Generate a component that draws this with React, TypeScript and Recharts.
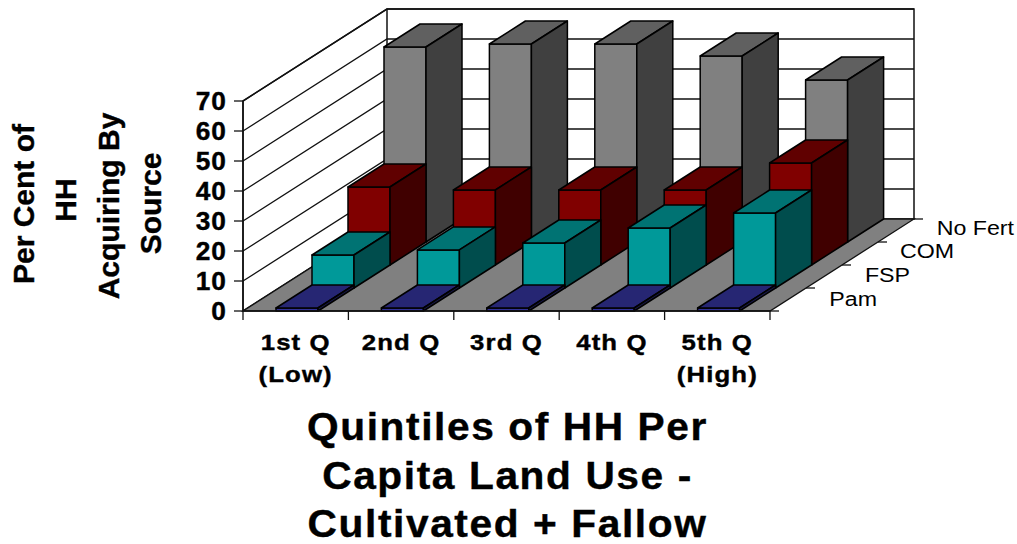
// @ts-nocheck
import React from 'react';
import { BarChart, Bar, XAxis, YAxis, Customized } from 'recharts';

const categories = ['1st Q\n(Low)', '2nd Q', '3rd Q', '4th Q', '5th Q\n(High)'];
const pam = [1, 1, 1, 1, 1];
const fsp = [11, 12.7, 15, 20, 25];
const com = [26, 25, 25, 25, 34];
const noFert = [65, 66, 66, 62, 54];
const yTicks = [0, 10, 20, 30, 40, 50, 60, 70];
const depthLabels = ['Pam', 'FSP', 'COM', 'No Fert'];
const yTitle = ['Per Cent of', 'HH', 'Acquiring By', 'Source'];
const xTitle = ['Quintiles of HH Per', 'Capita Land Use -', 'Cultivated + Fallow'];

const data = categories.map((cat, i) => ({ cat, pam: pam[i], fsp: fsp[i], com: com[i], noFert: noFert[i] }));

const FONT = '"Liberation Sans", Arial, sans-serif';
const WIDTH = 1017;
const HEIGHT = 544;
const LEFT = 243;
const RIGHT = 770;
const TOP = 101;
const BOTTOM = 311;
const DEPTH_X = 144;
const DEPTH_Y = 92;
const ROW_X = 36;
const ROW_Y = 23;
const LINE = '#111';
const Y_TITLE_MID = [204, 200, 206, 203.5];

const valueY = (v) => BOTTOM - (v / 70) * (BOTTOM - TOP);

// stretched text, the original has wide glyphs
const Wide = ({ x, y, size, sx = 1.12, gap = 0, weight = 'bold', anchor = 'middle', children }) => (
    <text
        transform={`translate(${x},${y}) scale(${sx},1)`}
        textAnchor={anchor}
        fontFamily={FONT}
        fontSize={size}
        fontWeight={weight}
        letterSpacing={gap}
        fill="#000"
        stroke={weight === 'bold' ? '#000' : 'none'}
        strokeWidth={weight === 'bold' ? 0.4 : 0}
    >
        {children}
    </text>
);

const Walls = () => {
    const catW = (RIGHT - LEFT) / categories.length;
    return (
        <g>
            <polygon
                points={`${LEFT},${TOP} ${LEFT + DEPTH_X},${TOP - DEPTH_Y} ${RIGHT + DEPTH_X},${TOP - DEPTH_Y} ${RIGHT + DEPTH_X},${BOTTOM - DEPTH_Y} ${LEFT + DEPTH_X},${BOTTOM - DEPTH_Y} ${LEFT},${BOTTOM}`}
                fill="#fff"
                stroke={LINE}
                strokeWidth={1.5}
            />
            {yTicks.slice(1).map((t) => (
                <polyline
                    key={t}
                    points={`${LEFT},${valueY(t)} ${LEFT + DEPTH_X},${valueY(t) - DEPTH_Y} ${RIGHT + DEPTH_X},${valueY(t) - DEPTH_Y}`}
                    fill="none"
                    stroke={LINE}
                    strokeWidth={1.3}
                />
            ))}
            <line x1={LEFT + DEPTH_X} y1={TOP - DEPTH_Y} x2={LEFT + DEPTH_X} y2={BOTTOM - DEPTH_Y} stroke={LINE} strokeWidth={1.5} />
            <polygon
                points={`${LEFT},${BOTTOM} ${RIGHT},${BOTTOM} ${RIGHT + DEPTH_X},${BOTTOM - DEPTH_Y} ${LEFT + DEPTH_X},${BOTTOM - DEPTH_Y}`}
                fill="#808080"
                stroke={LINE}
                strokeWidth={1.3}
            />
            {categories.map((c, i) => (
                <line key={c} x1={LEFT + catW * i} y1={BOTTOM} x2={LEFT + catW * i} y2={BOTTOM + 9} stroke={LINE} strokeWidth={1.3} />
            ))}
            <line x1={RIGHT} y1={BOTTOM} x2={RIGHT} y2={BOTTOM + 9} stroke={LINE} strokeWidth={1.3} />
            {[0, 1, 2, 3, 4].map((i) => (
                <line
                    key={i}
                    x1={RIGHT + ROW_X * i}
                    y1={BOTTOM - ROW_Y * i}
                    x2={RIGHT + ROW_X * i + 9}
                    y2={BOTTOM - ROW_Y * i}
                    stroke={LINE}
                    strokeWidth={1.3}
                />
            ))}
        </g>
    );
};

const Titles = () => (
    <g>
        {yTitle.map((line, i) => (
            <text
                key={line}
                transform={`translate(${33.5 + i * 42.6},${Y_TITLE_MID[i]}) rotate(-90)`}
                textAnchor="middle"
                fontFamily={FONT}
                fontSize={30}
                fontWeight="bold"
                fill="#000"
                stroke="#000"
                strokeWidth={0.4}
            >
                {line}
            </text>
        ))}
        {xTitle.map((line, i) => (
            <Wide key={line} x={507.5} y={440 + i * 48.5} size={38} sx={1.07} gap={1.5}>
                {line}
            </Wide>
        ))}
        <Wide x={1014} y={235} size={20} sx={1.16} weight="normal" anchor="end">{depthLabels[3]}</Wide>
        <Wide x={954} y={258} size={20} sx={1.16} weight="normal" anchor="end">{depthLabels[2]}</Wide>
        <Wide x={910} y={282} size={20} sx={1.16} weight="normal" anchor="end">{depthLabels[1]}</Wide>
        <Wide x={877} y={306} size={20} sx={1.16} weight="normal" anchor="end">{depthLabels[0]}</Wide>
    </g>
);

const box3d = (row, front, top, side) => (props) => {
    const { x, y, width, height } = props;
    const fx = x + 1 + row * ROW_X;
    const fy = y - row * ROW_Y;
    const r = fx + width;
    const b = fy + height;
    return (
        <g stroke="#000" strokeWidth={1.5} strokeLinejoin="round">
            <rect x={fx} y={fy} width={width} height={height} fill={front} />
            <polygon points={`${fx},${fy} ${fx + ROW_X},${fy - ROW_Y} ${r + ROW_X},${fy - ROW_Y} ${r},${fy}`} fill={top} />
            <polygon points={`${r},${fy} ${r + ROW_X},${fy - ROW_Y} ${r + ROW_X},${b - ROW_Y} ${r},${b}`} fill={side} />
        </g>
    );
};

const XTick = ({ x, payload }) => {
    const lines = String(payload.value).split('\n');
    return (
        <g>
            {lines.map((line, i) => (
                <Wide key={line} x={x} y={BOTTOM + 39 + i * 32} size={23} sx={1.12} gap={1}>
                    {line}
                </Wide>
            ))}
        </g>
    );
};

const YTick = ({ x, y, payload }) => (
    <Wide x={x} y={y + 8.5} size={25} sx={1.05} gap={1} anchor="end">
        {payload.value}
    </Wide>
);

export default function App() {
    return (
        <div style={{ position: 'absolute', left: 0, top: 0, width: WIDTH, height: HEIGHT }}>
            <BarChart
                width={WIDTH}
                height={HEIGHT}
                data={data}
                barSize={42}
                barGap={-42}
                margin={{ top: TOP, right: WIDTH - RIGHT, bottom: 0, left: 0 }}
            >
                <Customized component={Walls} />
                <XAxis dataKey="cat" height={HEIGHT - BOTTOM} interval={0} tickLine={false} axisLine={{ stroke: LINE, strokeWidth: 1.5 }} tick={<XTick />} />
                <YAxis
                    width={LEFT}
                    domain={[0, 70]}
                    ticks={yTicks}
                    interval={0}
                    tickSize={9}
                    tickMargin={7}
                    axisLine={{ stroke: LINE, strokeWidth: 1.5 }}
                    tickLine={{ stroke: LINE, strokeWidth: 1.3 }}
                    tick={<YTick />}
                />
                <Bar dataKey="noFert" isAnimationActive={false} shape={box3d(3, '#808080', '#606060', '#404040')} />
                <Bar dataKey="com" isAnimationActive={false} shape={box3d(2, '#800000', '#600000', '#400000')} />
                <Bar dataKey="fsp" isAnimationActive={false} shape={box3d(1, '#009999', '#007373', '#004d4d')} />
                <Bar dataKey="pam" isAnimationActive={false} shape={box3d(0, '#333399', '#262673', '#1a1a4d')} />
                <Customized component={Titles} />
            </BarChart>
        </div>
    );
}
